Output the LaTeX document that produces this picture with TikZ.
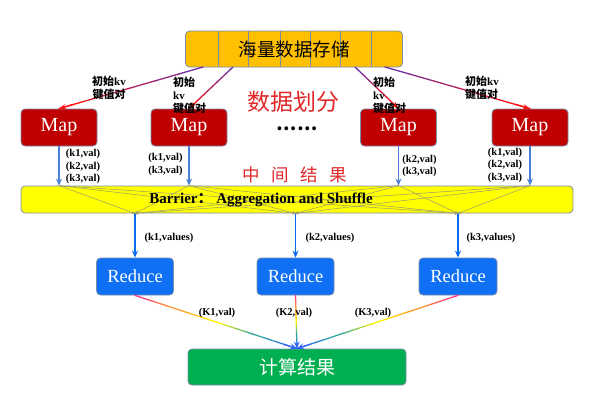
\documentclass[tikz,border=0pt]{standalone}
\usepackage{fontspec}
\setmainfont{Liberation Serif}
\newfontfamily\cjk{Noto Sans CJK SC}
\usetikzlibrary{calc,arrows.meta}
\definecolor{gold}{HTML}{FFC000}
\definecolor{bordc}{HTML}{7A8CA8}
\definecolor{mapred}{HTML}{C00000}
\definecolor{redblue}{HTML}{0F6FF5}
\definecolor{resgreen}{HTML}{00B050}
\definecolor{bary}{HTML}{FFFF00}
\definecolor{arrblue}{HTML}{4A80DA}
\definecolor{redarr}{HTML}{0A6CF0}
\definecolor{txtred}{HTML}{E02828}
\definecolor{purp}{HTML}{7030A0}
\definecolor{rred}{HTML}{FF1010}
\definecolor{gpink}{HTML}{FF3388}
\definecolor{gorange}{HTML}{FF9930}
\definecolor{gyellow}{HTML}{FFF000}
\definecolor{gteal}{HTML}{30AAA0}
\definecolor{gblue}{HTML}{3366FF}
\definecolor{shuf}{HTML}{9A9A70}
\newcommand\gradseg[6]{%
  \foreach \k in {0,...,5}{
    \pgfmathsetmacro\ta{#3+(#4-#3)*\k/6}
    \pgfmathsetmacro\tb{#3+(#4-#3)*(\k+1)/6}
    \pgfmathtruncatemacro\mx{100-\k*20}
    \draw[gradlw, color=#5!\mx!#6] ($(#1)!\ta!(#2)$) -- ($(#1)!\tb!(#2)$);
  }}
\newcommand\purparrow[2]{%
  \gradseg{#1}{#2}{0}{1}{purp}{rred}
  \draw[gradlw, -{Stealth[length=7pt,width=5pt]}, rred] ($(#1)!0.9!(#2)$) -- (#2);}
\newcommand\rainarrow[2]{%
  \gradseg{#1}{#2}{0}{0.25}{gpink}{gorange}
  \gradseg{#1}{#2}{0.25}{0.5}{gorange}{gyellow}
  \gradseg{#1}{#2}{0.5}{0.75}{gyellow}{gteal}
  \gradseg{#1}{#2}{0.75}{1}{gteal}{gblue}
  \draw[gradlw, -{Stealth[length=7pt,width=6pt]}, gblue] ($(#1)!0.92!(#2)$) -- (#2);}
\begin{document}
\begin{tikzpicture}[x=1pt,y=-1pt,
  gradlw/.style={line width=1.3pt, line cap=round},
  box/.style={draw=bordc, line width=0.8pt, rounded corners=4pt, inner sep=0pt, anchor=center},
  mapbox/.style={box, fill=mapred, minimum width=76pt, minimum height=37pt, text=white, font=\fontsize{20}{20}\selectfont},
  redbox/.style={box, fill=redblue, minimum width=77pt, minimum height=37pt, text=white, font=\fontsize{18.5}{18.5}\selectfont},
  kvlab/.style={font=\bfseries\fontsize{10.5}{12.5}\selectfont, align=left, inner sep=0pt},
  initlab/.style={font=\bfseries\fontsize{11}{13}\selectfont, align=left, inner sep=0pt, anchor=west},
  blarr/.style={line width=1.3pt, -{Stealth[length=7pt,width=6pt]}},
  shufarr/.style={shuf, line width=0.5pt, -{Stealth[length=3pt,width=3pt]}}
]
\useasboundingbox (0,0) rectangle (595,407);
% top storage box
\node[box, fill=gold, minimum width=217pt, minimum height=36pt] (top) at (294,49) {};
\foreach \xx in {218,248,280,310,340,371}{
  \draw[bordc, line width=0.5pt] (\xx,31) -- (\xx,67);}
\node[font=\cjk\fontsize{18.5}{18.5}\selectfont] (toptxt) at (294,49) {海量数据存储};
% map boxes
\node[mapbox] (m1) at (59,127.5) {Map};
\node[mapbox] (m2) at (189,127.5) {Map};
\node[mapbox] (m3) at (398.5,127.5) {Map};
\node[mapbox] (m4) at (530,127.5) {Map};
% barrier
\node[box, fill=bary, minimum width=552pt, minimum height=27pt] (bar) at (297,199.5) {};
% reduce boxes
\node[redbox] (r1) at (135,276.5) {Reduce};
\node[redbox] (r2) at (295.5,276.5) {Reduce};
\node[redbox, minimum width=78pt] (r3) at (458,276.5) {Reduce};
% result
\node[box, fill=resgreen, minimum width=218pt, minimum height=36pt, text=white, font=\cjk\fontsize{19}{19}\selectfont] (res) at (297,367) {计算结果};
% arrows from top box
\coordinate (s1) at (203,67);
\coordinate (s2) at (233,67);
\coordinate (s3) at (355,67);
\coordinate (s4) at (385,67);
\purparrow{s1}{m1.north}
\purparrow{s2}{m2.north}
\purparrow{s3}{m3.north}
\purparrow{s4}{m4.north}
\node[initlab, align=center, anchor=center] (i1) at (109,87.5) {{\cjk 初始}kv\\{\cjk 键值对}};
\node[initlab] (i2) at (173,95) {{\cjk 初始}\\kv\\{\cjk 键值对}};
\node[initlab] (i3) at (373,95) {{\cjk 初始}\\kv\\{\cjk 键值对}};
\node[initlab] (i4) at (465,88) {{\cjk 初始}kv\\{\cjk 键值对}};
% middle texts
\node[text=txtred, font=\cjk\fontsize{23}{23}\selectfont] (split) at (293,102) {数据划分};
\node[font=\cjk\bfseries\fontsize{18}{18}\selectfont] (dots) at (297,129) {……};
\node[text=txtred, font=\cjk\fontsize{17.5}{17.5}\selectfont] (mid) at (295,175) {中\hspace{0.65em}间\hspace{0.65em}结\hspace{0.65em}果};
% map to barrier
\foreach \i in {1,2,3,4}{
  \coordinate (t\i) at (m\i.south |- bar.north);
  \draw[blarr, arrblue] (m\i.south) -- (t\i);}
\node[kvlab] (l1) at (83,166.5) {(k1,val)\\(k2,val)\\(k3,val)};
\node[kvlab] (l2) at (165.5,164.5) {(k1,val)\\(k3,val)};
\node[kvlab] (l3) at (419.5,166) {(k2,val)\\(k3,val)};
\node[kvlab] (l4) at (505,165) {(k1,val)\\(k2,val)\\(k3,val)};
% barrier to reduce
\foreach \j in {1,2,3}{
  \coordinate (b\j) at (r\j.north |- bar.south);
  \draw[blarr, redarr] (b\j) -- (r\j.north);}
% shuffle lines
\foreach \i in {1,2,3,4}{
  \foreach \j in {1,2,3}{
    \draw[shufarr] (t\i) -- (b\j);}}
\node[font=\bfseries\fontsize{15}{15}\selectfont] (bartxt) at (261,200) {Barrier{\cjk\bfseries ：} Aggregation and Shuffle};
\node[kvlab] (v1) at (169,238) {(k1,values)};
\node[kvlab] (v2) at (330,238) {(k2,values)};
\node[kvlab] (v3) at (491,238) {(k3,values)};
% reduce to result
\rainarrow{r1.south}{res.north}
\rainarrow{r2.south}{res.north}
\rainarrow{r3.south}{res.north}
\node[kvlab] (o1) at (217,313) {(K1,val)};
\node[kvlab] (o2) at (294,313) {(K2,val)};
\node[kvlab] (o3) at (373,313) {(K3,val)};
\end{tikzpicture}
\end{document}
